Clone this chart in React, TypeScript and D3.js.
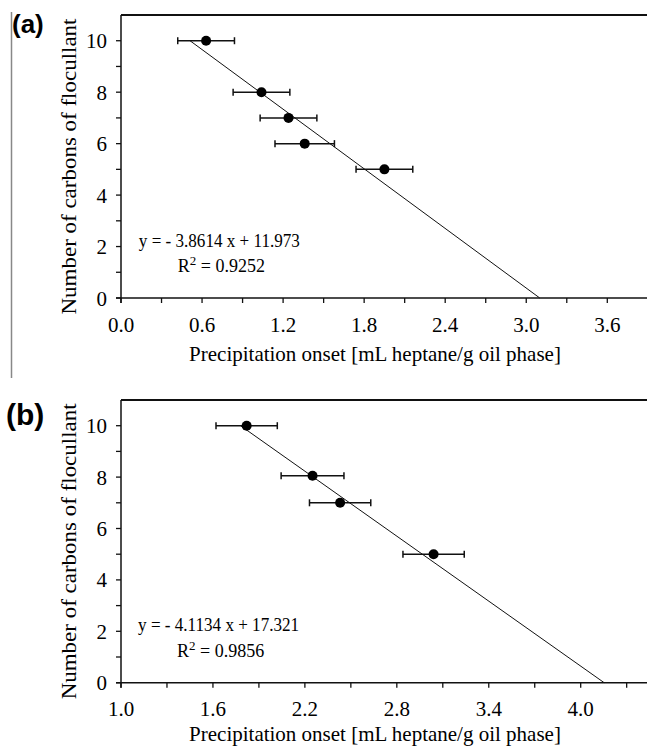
import * as d3 from "d3";

// panel (a): flocculant carbons vs precipitation onset
const carbonsA = [10, 8, 7, 6, 5];
const onsetA = [0.63, 1.04, 1.24, 1.36, 1.95];
const errA = [0.21, 0.21, 0.21, 0.22, 0.21];
const trendXA = [0.511, 3.1];
const trendYA = [10, 0];
const xTicksA = [0, 0.6, 1.2, 1.8, 2.4, 3.0, 3.6];
const xMinorA = [0.3, 0.9, 1.5, 2.1, 2.7, 3.3, 3.9];
const eqA = "y = - 3.8614 x + 11.973";
const r2A = "0.9252";

// panel (b)
const carbonsB = [10, 8.05, 7, 5];
const onsetB = [1.82, 2.25, 2.43, 3.04];
const errB = [0.2, 0.205, 0.2, 0.2];
const trendXB = [1.78, 4.153];
const trendYB = [10, 0];
const xTicksB = [1.0, 1.6, 2.2, 2.8, 3.4, 4.0];
const xMinorB = [1.3, 1.9, 2.5, 3.1, 3.7, 4.3];
const eqB = "y = - 4.1134 x + 17.321";
const r2B = "0.9856";

const yTicks = [0, 2, 4, 6, 8, 10];
const yMinor = [1, 3, 5, 7, 9];

const W = 647;
const H = 746;
const SERIF = "'Liberation Serif', 'Times New Roman', serif";

function Panel({ label, labelSize, labelX, labelY, xs, ys, errs, trendX, trendY, xTicks, xMinor, xDomain, xRange, axisY, topY, eq, r2, eqX, titleOff }) {
  const x = d3.scaleLinear().domain(xDomain).range(xRange);
  const y = d3.scaleLinear().domain([0, 11]).range([axisY, topY]);
  const left = xRange[0];
  const line = d3.line<number>().x((d) => x(d)).y((_, i) => y(trendY[i]));
  const tk = 5;

  return (
    <g>
      <text x={labelX} y={labelY} fontFamily="'Liberation Sans', Arial, sans-serif" fontWeight="bold" fontSize={labelSize}>
        {label}
      </text>

      {/* frame */}
      <line x1={left} x2={W} y1={topY} y2={topY} stroke="#111" strokeWidth={2} />
      <line x1={left} x2={left} y1={topY} y2={axisY + tk} stroke="#111" strokeWidth={1.5} />
      <line x1={left - tk} x2={W} y1={axisY} y2={axisY} stroke="#111" strokeWidth={1.5} />

      {/* y ticks */}
      {yTicks.concat(yMinor).map((t) => (
        <line key={"yt" + t} x1={left - tk} x2={left} y1={y(t)} y2={y(t)} stroke="#111" strokeWidth={1.3} />
      ))}
      {yTicks.map((t) => (
        <text key={"yl" + t} x={left - 14} y={y(t) + 7.5} textAnchor="end" fontFamily={SERIF} fontSize={21}>
          {t}
        </text>
      ))}

      {/* x ticks */}
      {xTicks.concat(xMinor).map((t) => (
        <line key={"xt" + t} x1={x(t)} x2={x(t)} y1={axisY} y2={axisY + tk} stroke="#111" strokeWidth={1.3} />
      ))}
      {xTicks.map((t) => (
        <text key={"xl" + t} x={x(t)} y={axisY + 33.5} textAnchor="middle" fontFamily={SERIF} fontSize={21}>
          {d3.format(".1f")(t)}
        </text>
      ))}

      {/* axis titles */}
      <text x={375} y={axisY + titleOff} textAnchor="middle" fontFamily={SERIF} fontSize={21}>
        Precipitation onset [mL heptane/g oil phase]
      </text>
      <text
        transform={`translate(76,${(topY + axisY) / 2 + 10}) rotate(-90)`}
        textAnchor="middle"
        fontFamily={SERIF}
        fontSize={21}
        textLength={296}
        lengthAdjust="spacingAndGlyphs"
      >
        Number of carbons of flocullant
      </text>

      {/* trend line */}
      <path d={line(trendX) || ""} fill="none" stroke="#111" strokeWidth={1} />

      {/* error bars and points */}
      {xs.map((v, i) => {
        const cy = y(ys[i]);
        const x0 = x(v - errs[i]);
        const x1 = x(v + errs[i]);
        return (
          <g key={"p" + i}>
            <line x1={x0} x2={x1} y1={cy} y2={cy} stroke="#111" strokeWidth={1.5} />
            <line x1={x0} x2={x0} y1={cy - 3.5} y2={cy + 3.5} stroke="#111" strokeWidth={1.5} />
            <line x1={x1} x2={x1} y1={cy - 3.5} y2={cy + 3.5} stroke="#111" strokeWidth={1.5} />
            <circle cx={x(v)} cy={cy} r={5} fill="#000" />
          </g>
        );
      })}

      {/* regression annotation */}
      <text x={x(eqX)} y={y(2)} textAnchor="middle" fontFamily={SERIF} fontSize={18} textLength={161} lengthAdjust="spacingAndGlyphs">
        {eq}
      </text>
      <text x={x(eqX) + 2} y={y(1)} textAnchor="middle" fontFamily={SERIF} fontSize={18}>
        R<tspan fontSize={13} dy={-7}>2</tspan>
        <tspan dy={7}> = {r2}</tspan>
      </text>
    </g>
  );
}

export default function App() {
  return (
    <svg width={W} height={H} style={{ position: "absolute", left: 0, top: 0, background: "#fff" }}>
      <rect width={W} height={H} fill="#fff" />
      <line x1={11.5} x2={11.5} y1={12} y2={378} stroke="#888" strokeWidth={1.5} />
      <Panel
        label="(a)"
        labelSize={26}
        labelX={12}
        labelY={33}
        xs={onsetA}
        ys={carbonsA}
        errs={errA}
        trendX={trendXA}
        trendY={trendYA}
        xTicks={xTicksA}
        xMinor={xMinorA}
        xDomain={[0, 3.6]}
        xRange={[121, 607.3]}
        axisY={298}
        topY={15}
        eq={eqA}
        r2={r2A}
        eqX={0.728}
        titleOff={63}
      />
      <Panel
        label="(b)"
        labelSize={30}
        labelX={6}
        labelY={425}
        xs={onsetB}
        ys={carbonsB}
        errs={errB}
        trendX={trendXB}
        trendY={trendYB}
        xTicks={xTicksB}
        xMinor={xMinorB}
        xDomain={[1.0, 4.0]}
        xRange={[121, 580.7]}
        axisY={682.7}
        topY={400}
        eq={eqB}
        r2={r2B}
        eqX={1.637}
        titleOff={58}
      />
    </svg>
  );
}
